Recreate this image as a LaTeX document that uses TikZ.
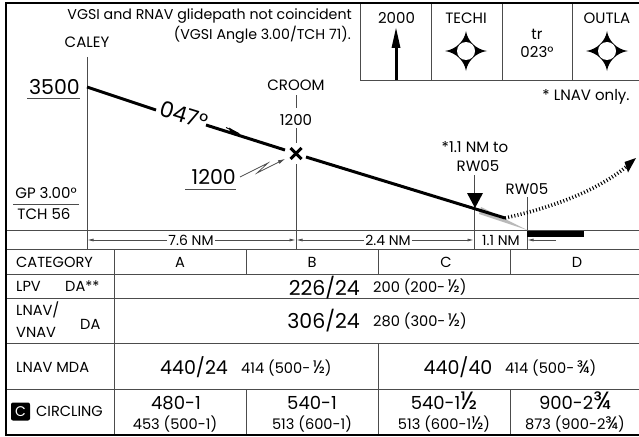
\documentclass[tikz,border=0pt]{standalone}
\usepackage{fontspec}
\setmainfont{Poppins}
\usetikzlibrary{arrows.meta}
\definecolor{ln}{gray}{0.3}
\newcommand{\fs}[1]{\fontsize{#1}{#1}\selectfont}
\newcommand{\bigf}[1]{{\fs{25}#1}}
\newcommand{\smf}[1]{{\fs{18}#1}}
\tikzset{
  x=1pt,y=-1pt,
  frame/.style={line width=2pt,black},
  grid/.style={line width=0.9pt,ln},
  thinl/.style={line width=0.7pt,ln},
  path/.style={line width=3pt,black},
  lab/.style={inner sep=0pt,font=\fs{15}},
  big/.style={inner sep=0pt,font=\fs{20.5}},
  mid/.style={inner sep=0pt,font=\fs{19}},
  mini/.style={inner sep=0pt,font=\fs{14.2}},
  cell/.style={inner sep=0pt,font=\fs{14.6}},
  minstop/.style={inner sep=0pt,font=\fs{18},anchor=base},
  minsub/.style={inner sep=0pt,font=\fs{14.6},anchor=base},
  dlab/.style={fill=white,inner sep=1pt,font=\fs{14}},
  dist/.style={thinl,-{Latex[length=6pt,width=3pt]}},
}
\begin{document}
\begin{tikzpicture}
\useasboundingbox (0,0) rectangle (639,436);
\fill[white] (0,0) rectangle (639,436);
% coordinates
\coordinate (caleyT) at (87,57); \coordinate (caleyB) at (87,249);
\coordinate (croomT) at (296,95); \coordinate (croomB) at (296,249);
\coordinate (mapT) at (474,175); \coordinate (mapB) at (474,249);
\coordinate (rwT) at (527,197); \coordinate (rwB) at (527,249);
\coordinate (gp0) at (87,87); \coordinate (gp1) at (156,110); \coordinate (gp2) at (206,125);
\coordinate (gp3) at (285,150); \coordinate (gp4) at (306,157); \coordinate (gp5) at (505,218);
\coordinate (fix) at (296,153.5);
% grey wedge
\fill[gray!55] (481,207) -- (527,230) -- (479,214) -- cycle;
% verticals
\draw[thinl] (caleyT) -- (caleyB);
\draw[thinl] (croomT) -- (296,108);
\draw[thinl] (296,128) -- (296,143);
\draw[thinl] (296,164) -- (croomB);
\draw[thinl] (mapT) -- (mapB);
\draw[thinl] (rwT) -- (rwB);
% glidepath
\draw[path] (gp0) -- (gp1);
\draw[path] (gp2) -- (gp3);
\draw[path] (gp4) -- (gp5);
\draw[line width=0.9pt] (226,127.5) -- (239,133.5);
\fill (229,127.5) -- (240,134) -- (230,132) -- cycle;
% fix
\node[inner sep=0pt,minimum size=14pt] (fixn) at (fix) {};
\draw[line width=3pt] (290.5,148) -- (301.5,159);
\draw[line width=3pt] (301.5,148) -- (290.5,159);
% FAF triangle
\fill (467,193) -- (483,193) -- (475,208) -- cycle;
% dotted missed approach
\draw[line width=3.6pt,dash pattern=on 1pt off 2.2pt] (gp5) .. controls (550,208) and (595,192) .. (626,167);
\fill (636,158) -- (628,172.5) -- (624.5,162) -- cycle;
% runway
\fill (527,230) rectangle (584,236.5);
% table lines
\draw[grid] (5,230) -- (639,230);
\draw[grid] (5,249) -- (639,249);
\draw[grid] (5,274.5) -- (639,274.5);
\draw[grid] (5,298) -- (639,298);
\draw[grid] (5,343) -- (639,343);
\draw[grid] (5,389) -- (639,389);
\draw[grid] (114,249) -- (114,435);
\draw[grid] (246,249) -- (246,274.5);
\draw[grid] (246,389) -- (246,435);
\draw[grid] (378,249) -- (378,274.5);
\draw[grid] (378,343) -- (378,435);
\draw[grid] (510,249) -- (510,274.5);
\draw[grid] (510,389) -- (510,435);
% top right boxes
\draw[grid] (360,3) -- (360,80) -- (639,80);
\draw[grid] (431,3) -- (431,80);
\draw[grid] (502,3) -- (502,80);
\draw[grid] (572,3) -- (572,80);
% frame
\draw[frame] (639,3.5) -- (5.5,3.5) -- (5.5,435) -- (639,435);
% 2000 arrow
\node[lab] (alt) at (396.5,18) {2000};
\coordinate (altB) at (396,80);
\draw[line width=3pt] (altB) -- (396,44);
\fill (396,28) -- (400.5,48) -- (391.5,48) -- cycle;
% stars
\foreach \nm/\cx in {techi/466,outla/607}{
  \begin{scope}[shift={(\cx,51)}]
  \fill (-21,0) .. controls (-10,-1.5) and (-1.5,-10) .. (0,-20)
        .. controls (1.5,-10) and (10,-1.5) .. (21,0)
        .. controls (10,1.5) and (1.5,10) .. (0,20)
        .. controls (-1.5,10) and (-10,1.5) .. (-21,0) -- cycle;
  \fill[white] (0,0) circle (9);
  \end{scope}
}
\node[lab] (techi) at (466,18) {TECHI};
\node[lab] (outla) at (607,18) {OUTLA};
\node[lab] (tr) at (537,34) {tr};
\node[lab] (crs) at (537,52) {023°};
\node[lab] (lnavonly) at (586,96.5) {* LNAV only.};
% top text
\node[mini,anchor=east] (note1) at (352,16) {VGSI and RNAV glidepath not coincident};
\node[mini,anchor=east] (note2) at (351,35) {(VGSI Angle 3.00/TCH 71).};
\node[lab] (caley) at (87,42) {CALEY};
\node[big,anchor=east] (a3500) at (80,87) {3500};
\draw[thinl] (27,98) -- (80,98);
\node[inner sep=0pt,font=\fs{22},rotate=-17] (crsin) at (184,115) {047°};
\node[lab] (croom) at (296,85.5) {CROOM};
\node[lab] (croomalt) at (296,120) {1200};
\node[big,anchor=east] (a1200) at (236,177) {1200};
\draw[thinl] (185,189.5) -- (236,189.5);
\draw[thinl,-{Latex[length=7pt,width=4pt]}] (a1200.east) ++(4,0) -- (268,163) -- (257,173) -- (285,159);
\node[lab] (gp) at (46,193.5) {GP 3.00°};
\node[lab] (tch) at (44,214) {TCH 56};
\draw[thinl] (13,204.5) -- (79,204.5);
\node[lab] (to1) at (475,147) {*1.1 NM to};
\node[lab] (to2) at (478,166) {RW05};
\node[lab] (rw) at (527,189) {RW05};
% distances
\node[dlab] (d1) at (191,240) {7.6 NM};
\node[dlab] (d2) at (388,240) {2.4 NM};
\node[dlab] (d3) at (501,240) {1.1 NM};
\coordinate (d1a) at (87.5,240); \coordinate (d1b) at (295.5,240);
\coordinate (d2a) at (296.5,240); \coordinate (d2b) at (473.5,240);
\coordinate (d3b) at (527.5,240); \coordinate (d3e) at (556,240);
\draw[dist] (d1) -- (d1a);
\draw[dist] (d1) -- (d1b);
\draw[dist] (d2) -- (d2a);
\draw[dist] (d2) -- (d2b);
\draw[dist] (d3e) -- (d3b);
% table text
\node[cell,anchor=west] (cat) at (16,262) {CATEGORY};
\node[cell] (ca) at (180,262) {A};
\node[cell] (cb) at (312,262) {B};
\node[cell] (cc) at (446,262) {C};
\node[cell] (cd) at (577,262) {D};
\node[cell,anchor=west] (lpv) at (16,286.5) {LPV};
\node[cell,anchor=west] (da) at (65,286.5) {DA**};
\node[big,anchor=east] (lpvm) at (360,288) {226/24};
\node[cell,anchor=base west] (lpvv) at (373,292) {200 (200-\,\smf{½})};
\node[cell,anchor=west] (ln1) at (16,309.5) {LNAV/};
\node[cell,anchor=west] (ln2) at (16,332) {VNAV};
\node[cell,anchor=west] (da2) at (80,324) {DA};
\node[big,anchor=east] (lnvm) at (360,321) {306/24};
\node[cell,anchor=base west] (lnvv) at (373,326) {280 (300-\,\smf{½})};
\node[cell,anchor=west] (mda) at (16,367) {LNAV MDA};
\node[mid] (m1) at (194,367) {440/24};
\node[cell,anchor=base west] (m1v) at (241,373) {414 (500-\,\smf{½})};
\node[mid] (m2) at (458,367) {440/40};
\node[cell,anchor=base west] (m2v) at (505,373) {414 (500-\,\smf{¾})};
\node[fill=black,rounded corners=2pt,minimum width=19pt,minimum height=18pt,inner sep=0pt,text=white,font=\fs{14}] (cbox) at (20.5,411.5) {C};
\node[cell,anchor=west] (circ) at (36,411) {CIRCLING};
\node[minstop] (c1) at (176,409) {480-1};
\node[minsub] (c1v) at (175,429) {453 (500-1)};
\node[minstop] (c2) at (312,409) {540-1};
\node[minsub] (c2v) at (312,429) {513 (600-1)};
\node[minstop] (c3) at (444,409) {540-1\bigf{½}};
\node[minsub] (c3v) at (444,429) {513 (600-1\smf{½})};
\node[minstop] (c4) at (575,409) {900-2\bigf{¾}};
\node[minsub] (c4v) at (575,429) {873 (900-2\smf{¾})};
\end{tikzpicture}
\end{document}
